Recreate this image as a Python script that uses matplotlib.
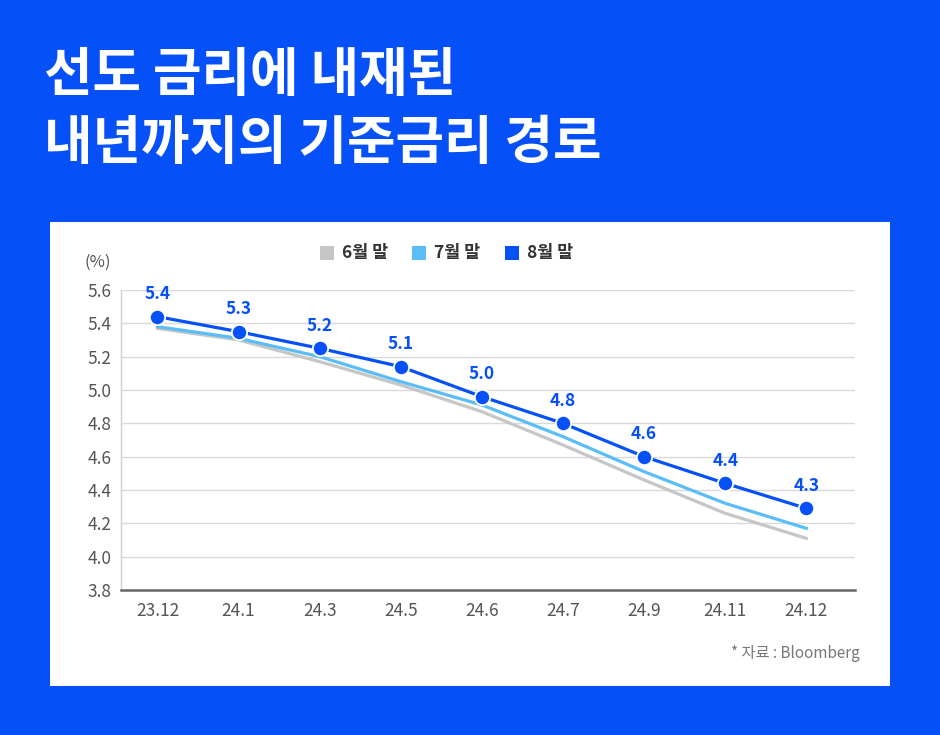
import matplotlib
matplotlib.use('Agg')
import matplotlib.pyplot as plt
from matplotlib.patches import Rectangle

plt.rcParams['font.family'] = ['Noto Sans CJK KR', 'DejaVu Sans']

# data
months = ['23.12', '24.1', '24.3', '24.5', '24.6', '24.7', '24.9', '24.11', '24.12']
june = [5.37, 5.30, 5.17, 5.03, 4.87, 4.67, 4.46, 4.26, 4.11]
july = [5.38, 5.31, 5.20, 5.05, 4.91, 4.72, 4.51, 4.32, 4.17]
august = [5.44, 5.35, 5.25, 5.14, 4.96, 4.80, 4.60, 4.44, 4.29]
aug_labels = ['5.4', '5.3', '5.2', '5.1', '5.0', '4.8', '4.6', '4.4', '4.3']
yticks = [3.8, 4.0, 4.2, 4.4, 4.6, 4.8, 5.0, 5.2, 5.4, 5.6]

BG = '#0650F8'
C_JUN = '#C6C6C6'
C_JUL = '#5BBDF7'
C_AUG = '#0650F8'

W, H = 940, 735
fig = plt.figure(figsize=(W / 100, H / 100), dpi=100)
fig.patch.set_facecolor(BG)

# white panel
fig.patches.append(Rectangle((50 / W, 1 - 686 / H), 840 / W, 464 / H,
                             transform=fig.transFigure, facecolor='white',
                             edgecolor='none', zorder=-5))

fig.text(44 / W, 1 - 76 / H, '선도 금리에 내재된', color='white',
         fontsize=38, fontweight='bold', va='center', ha='left')
fig.text(44 / W, 1 - 144 / H, '내년까지의 기준금리 경로', color='white',
         fontsize=38, fontweight='bold', va='center', ha='left')

ax = fig.add_axes([121 / W, 1 - 590 / H, (855 - 121) / W, 300 / H])
ax.set_zorder(5)
ax.set_facecolor('none')
x = list(range(len(months)))

ax.plot(x, june, color=C_JUN, lw=2.3, zorder=2)
ax.plot(x, july, color=C_JUL, lw=2.3, zorder=3)
ax.plot(x, august, color=C_AUG, lw=2.3, marker='o', markersize=11,
        markeredgecolor='white', markeredgewidth=1.3, zorder=4)

for xi, yi, lab in zip(x, august, aug_labels):
    ax.annotate(lab, (xi, yi), xytext=(0, 16), textcoords='offset points',
                ha='center', va='center', color=C_AUG, fontsize=12.5,
                fontweight='bold')

ax.set_ylim(3.8, 5.6)
ax.set_xlim(-0.45, 8.6)
ax.set_yticks(yticks)
ax.set_yticklabels(['%.1f' % v for v in yticks])
ax.set_xticks(x)
ax.set_xticklabels(months)
ax.tick_params(axis='both', length=0, labelsize=12.5, labelcolor='#555555')
ax.tick_params(axis='y', pad=7)
ax.tick_params(axis='x', pad=9)
ax.grid(axis='y', color='#D9D9D9', lw=1.0)
ax.set_axisbelow(True)
for s in ['top', 'right']:
    ax.spines[s].set_visible(False)
ax.spines['left'].set_color('#D0D0D0')
ax.spines['left'].set_linewidth(1.0)
ax.spines['bottom'].set_color('#666666')
ax.spines['bottom'].set_linewidth(1.8)

fig.text(98 / W, 1 - 262 / H, '(%)', color='#555555', fontsize=12,
         ha='center', va='center')

# legend
for lx, col, name in [(327, C_JUN, '6월 말'), (419, C_JUL, '7월 말'),
                      (512, C_AUG, '8월 말')]:
    fig.patches.append(Rectangle(((lx - 7) / W, 1 - 260 / H), 14 / W, 14 / H,
                                 transform=fig.transFigure, facecolor=col,
                                 edgecolor='none'))
    fig.text((lx + 15) / W, 1 - 253 / H, name, color='#333333',
             fontsize=12.5, fontweight='bold', ha='left', va='center')

fig.text(860 / W, 1 - 654 / H, '* 자료 : Bloomberg', color='#777777',
         fontsize=11, ha='right', va='center')

fig.savefig('out.png', dpi=100, facecolor=fig.get_facecolor())
